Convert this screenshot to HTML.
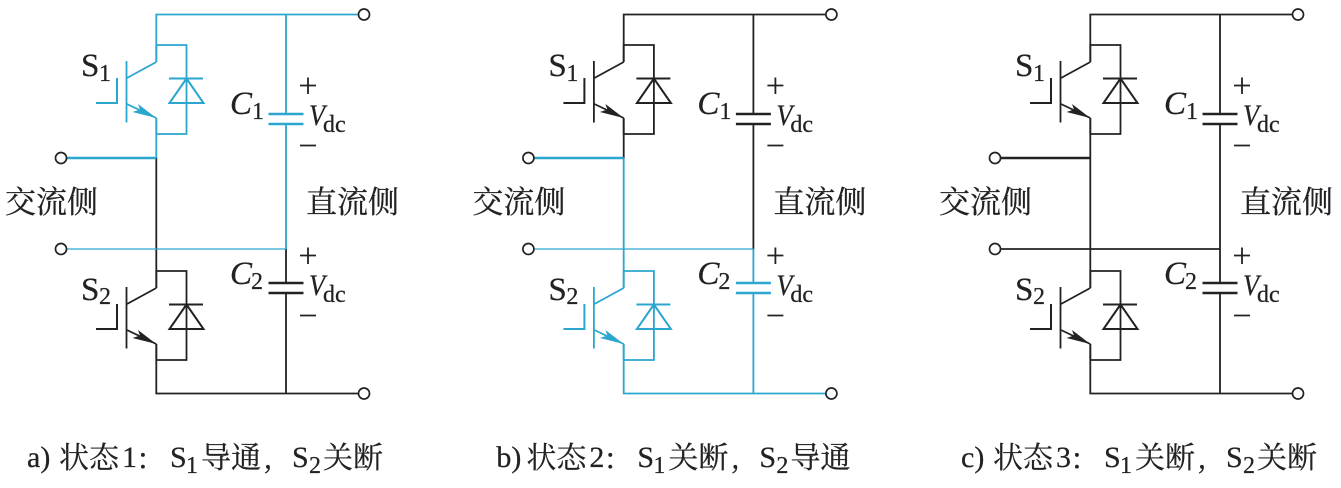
<!DOCTYPE html>
<html><head><meta charset="utf-8">
<style>
html,body{margin:0;padding:0;background:#fff;width:1341px;height:488px;overflow:hidden}
svg{display:block}
text{fill:#222;stroke:#222;stroke-width:.25;font-family:"Liberation Serif","Noto Serif CJK SC",serif}
.c{font-family:"Noto Serif CJK SC","Liberation Serif",serif;font-size:30px}
.h{font-family:"Noto Serif CJK SC","Liberation Serif",serif;font-size:31px}
.s{font-size:33px}.sb{font-size:24px}.i{font-style:italic;font-size:33px}.t{font-size:24px}
.f{font-size:30px}
.n{fill:none;stroke:currentColor;stroke-width:1.8}
.k{color:#222}.b{color:#2ba6cf}
</style></head><body>
<svg width="1341" height="488" viewBox="0 0 1341 488" xmlns="http://www.w3.org/2000/svg">
<defs>
<g id="sw">
 <path class="n" d="M156.300 62V45H186.500V134H156.300V118"/>
 <path class="n" d="M126.500 61V122.500"/>
 <path class="n" d="M127 78L156.300 62M127 104L156.300 118"/>
 <path class="n" style="stroke-width:2" d="M96 103H117V78"/>
 <path class="n" style="stroke-width:2" d="M186.500 78.500L169.500 103H203.500ZM169 78.500H203"/>
 <path d="M156.300 118L132.500 112L140 109.500L138 104Z" fill="currentColor"/>
</g>
<g id="cap">
 <path class="n" style="stroke-width:2.500" d="M268.500 114H303.500M268.500 124H303.500"/>
</g>
<g id="labels">
 <text class="s" x="81" y="76">S</text><text class="sb" x="99" y="81">1</text>
 <text class="s" x="81" y="300">S</text><text class="sb" x="99" y="304">2</text>
 <text class="i" x="230" y="114">C</text><text class="sb" x="252" y="119">1</text>
 <text class="i" x="230" y="284">C</text><text class="sb" x="251" y="289">2</text>
 <text class="i" style="font-size:30px" x="309" y="125" textLength="16" lengthAdjust="spacingAndGlyphs">V</text><text class="t" x="323" y="132">dc</text>
 <text class="i" style="font-size:30px" x="309" y="295" textLength="16" lengthAdjust="spacingAndGlyphs">V</text><text class="t" x="323" y="302">dc</text>
 <path d="M300 85.500H316M308 77.500V94M300 145.500H316M300 255.500H316M308 247.500V264M300 315.500H316" stroke="#222" stroke-width="1.800" fill="none"/>
 <text class="h" x="5" y="213">交流侧</text>
 <text class="h" x="306" y="213">直流侧</text>
</g>
<g id="term">
 <circle cx="364" cy="14.500" r="5.500" fill="#fff" stroke="#222" stroke-width="1.700"/>
 <circle cx="364" cy="393.500" r="5.500" fill="#fff" stroke="#222" stroke-width="1.700"/>
 <circle cx="61" cy="158" r="5.500" fill="#fff" stroke="#222" stroke-width="1.700"/>
 <circle cx="61" cy="249" r="5.500" fill="#fff" stroke="#222" stroke-width="1.700"/>
</g>
</defs>

<!-- Panel a -->
<g>
 <g class="k">
  <path class="n" d="M156.300 158V288M286 249V283M286 293V393.500M156.300 344V393.500H358"/>
  <use href="#sw" y="226"/><use href="#cap" y="169"/>
 </g>
 <g class="b">
  <path class="n" d="M156.300 62V14.500H358M286 14.500V114M286 124V249M156.300 118V158"/>
  <path class="n" style="stroke-width:2.600" d="M66 158H156.300"/>
  <path class="n" style="stroke-width:1.300" d="M66 249H286"/>
  <use href="#sw"/><use href="#cap"/>
 </g>
 <use href="#labels"/><use href="#term"/>
 <text class="f" x="27" y="467">a)</text>
 <text class="c" x="59" y="468">状态</text>
 <text class="f" x="122" y="467">1</text>
 <text class="c" x="138" y="468">:</text>
 <text class="f" x="170" y="467">S</text><text class="sb" x="186" y="473">1</text>
 <text class="c" x="201" y="468">导通</text>
 <text class="c" x="263" y="468">,</text>
 <text class="f" x="292" y="467">S</text><text class="sb" x="309" y="473">2</text>
 <text class="c" x="323" y="468">关断</text>
</g>

<!-- Panel b -->
<g transform="translate(467.400 0)">
 <g class="k">
  <path class="n" d="M156.300 62V14.500H358M286 14.500V114M286 124V249M156.300 118V158"/>
  <use href="#sw"/><use href="#cap"/>
 </g>
 <g class="b">
  <path class="n" d="M156.300 158V288M286 249V283M286 293V393.500M156.300 344V393.500H358"/>
  <path class="n" style="stroke-width:2.600" d="M66 158H156.300"/>
  <path class="n" style="stroke-width:1.300" d="M66 249H286"/>
  <use href="#sw" y="226"/><use href="#cap" y="169"/>
 </g>
 <use href="#labels"/><use href="#term"/>
 <text class="f" x="29" y="467">b)</text>
 <text class="c" x="59" y="468">状态</text>
 <text class="f" x="122" y="467">2</text>
 <text class="c" x="138" y="468">:</text>
 <text class="f" x="170" y="467">S</text><text class="sb" x="186" y="473">1</text>
 <text class="c" x="201" y="468">关断</text>
 <text class="c" x="263" y="468">,</text>
 <text class="f" x="292" y="467">S</text><text class="sb" x="309" y="473">2</text>
 <text class="c" x="323" y="468">导通</text>
</g>

<!-- Panel c -->
<g transform="translate(934 0)">
 <g class="k">
  <path class="n" d="M156.300 62V14.500H358M286 14.500V114M286 124V283M286 293V393.500M156.300 118V288M156.300 344V393.500H358M66 249H286"/>
  <path class="n" style="stroke-width:2.400" d="M66 158H156.300"/>
  <use href="#sw"/><use href="#cap"/><use href="#sw" y="226"/><use href="#cap" y="169"/>
 </g>
 <use href="#labels"/><use href="#term"/>
 <text class="f" x="27" y="467">c)</text>
 <text class="c" x="59" y="468">状态</text>
 <text class="f" x="122" y="467">3</text>
 <text class="c" x="138" y="468">:</text>
 <text class="f" x="170" y="467">S</text><text class="sb" x="186" y="473">1</text>
 <text class="c" x="201" y="468">关断</text>
 <text class="c" x="263" y="468">,</text>
 <text class="f" x="292" y="467">S</text><text class="sb" x="309" y="473">2</text>
 <text class="c" x="323" y="468">关断</text>
</g>
</svg>
</body></html>
